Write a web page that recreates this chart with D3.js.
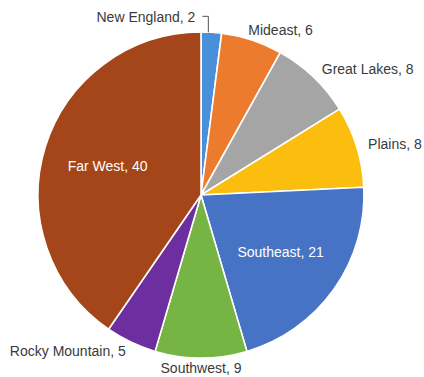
<!DOCTYPE html>
<html>
<head>
<meta charset="utf-8">
<script src="https://cdn.jsdelivr.net/npm/d3@7"></script>
<style>
  html, body { margin: 0; padding: 0; background: #fff; }
  svg { display: block; }
  text { font-family: "Liberation Sans", Arial, Helvetica, sans-serif; font-size: 14px; }
</style>
</head>
<body>
<svg id="chart" width="424" height="377"></svg>
<script>
// Regions and their counts, clockwise from 12 o'clock
const regions = ["New England", "Mideast", "Great Lakes", "Plains", "Southeast", "Southwest", "Rocky Mountain", "Far West"];
const counts  = [2, 6, 8, 8, 21, 9, 5, 40];
const colors  = ["#4a8fd9", "#ec7b2d", "#a5a5a5", "#fcbe0e", "#4673c4", "#76b444", "#6d2e9f", "#a4461a"];
// Where each label sits: outside the rim, inside the slice, or off to the side with a leader line
const placement = ["leader", "outside", "outside", "outside", "inside", "outside", "outside", "inside"];

const svg = d3.select("#chart");
const cx = 201, cy = 195, radius = 163;

const rows = regions.map((name, i) => ({ name, value: counts[i], color: colors[i], place: placement[i] }));

const pie = d3.pie().sort(null).value(d => d.value);
const arc = d3.arc().innerRadius(0).outerRadius(radius);
const arcs = pie(rows);

const g = svg.append("g").attr("transform", `translate(${cx},${cy})`);

g.selectAll("path.slice")
  .data(arcs)
  .join("path")
  .attr("class", "slice")
  .attr("d", arc)
  .attr("fill", d => d.data.color)
  .attr("stroke", "#fff")
  .attr("stroke-width", 1.6)
  .attr("stroke-linejoin", "round");

const mid = d => (d.startAngle + d.endAngle) / 2;
const textColor = "#3a3a3a";

// Labels outside the rim; those near the top slide a little toward the centre line
const outR = radius + 12;
arcs.filter(d => d.data.place === "outside").forEach(d => {
  const a = mid(d);
  const s = Math.sin(a), c = Math.cos(a);
  const x = s * outR, y = -c * outR;
  const anchor = s > 0.3 ? "start" : (s < -0.3 ? "end" : "middle");
  const dy = c < -0.8 ? 3 : 6;
  const t = g.append("text")
    .attr("y", y + dy)
    .attr("text-anchor", anchor)
    .attr("fill", textColor)
    .text(`${d.data.name}, ${d.data.value}`);
  const w = t.node().getComputedTextLength();
  const slide = (anchor === "middle" || c <= 0) ? 0 : Math.max(0, 0.5 - Math.abs(s)) * 0.6 * w * Math.sign(s);
  t.attr("x", x - slide);
});

// Labels inside the slice
const inArc = d3.arc().innerRadius(radius * 0.6).outerRadius(radius * 0.6);
arcs.filter(d => d.data.place === "inside").forEach(d => {
  const [x, y] = inArc.centroid(d);
  g.append("text")
    .attr("x", x)
    .attr("y", y)
    .attr("dy", "0.35em")
    .attr("text-anchor", "middle")
    .attr("fill", "#fff")
    .text(`${d.data.name}, ${d.data.value}`);
});

// Small slice at the top: label to the left with an elbow leader line
arcs.filter(d => d.data.place === "leader").forEach(d => {
  const a = mid(d);
  const px = Math.sin(a) * radius - 3, py = -Math.cos(a) * radius;
  const elbowY = py - 16;
  g.append("path")
    .attr("d", `M${px},${py} V${elbowY} H${px - 6}`)
    .attr("fill", "none")
    .attr("stroke", "#555")
    .attr("stroke-width", 1);
  g.append("text")
    .attr("x", px - 13)
    .attr("y", elbowY + 6)
    .attr("text-anchor", "end")
    .attr("fill", textColor)
    .text(`${d.data.name}, ${d.data.value}`);
});
</script>
</body>
</html>
